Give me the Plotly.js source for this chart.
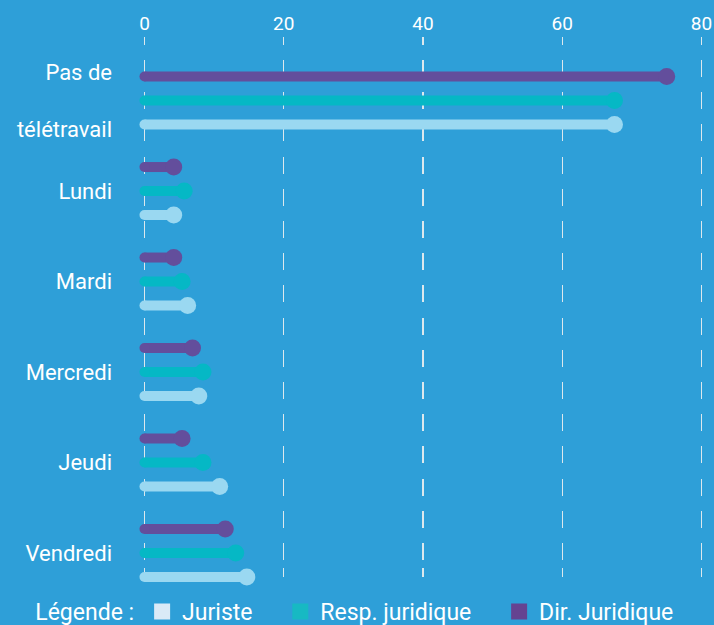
<!DOCTYPE html>
<html>
<head>
<meta charset="utf-8">
<script src="https://cdn.plot.ly/plotly-3.0.1.min.js"></script>
<style>html,body{margin:0;padding:0;background:#2E9FD8;}#chart{width:714px;height:625px;}</style>
</head>
<body>
<div id="chart"></div>
<script>
// ---- data ----
var categories = ['Pas de<br> <br>télétravail', 'Lundi', 'Mardi', 'Mercredi', 'Jeudi', 'Vendredi'];
var seriesNames = ['Juriste', 'Resp. juridique', 'Dir. Juridique'];
var juriste = [67.5, 4.2, 6.2, 7.8, 10.8, 14.7];
var respJuridique = [67.5, 5.7, 5.4, 8.4, 8.4, 13.1];
var dirJuridique = [75, 4.2, 4.2, 6.9, 5.4, 11.6];
var xTicks = [0, 20, 40, 60, 80];

// ---- styles ----
var BG = '#2E9FD8';
var barColors = ['#9AD8F1', '#05B8C5', '#634E9C'];
var legendColors = ['#DAEAF7', '#17B9C3', '#654391'];
var offsets = [0.265, 0, -0.265]; // within-group offset (category units)
var FONT = 'Roboto, "Open Sans", sans-serif';
var NB = '\u00a0';

function lollipopTrace(values, color, off) {
  var xs = [], ys = [], sizes = [];
  values.forEach(function (v, i) {
    xs.push(0, v, null);
    ys.push(i + off, i + off, null);
    sizes.push(10, 17, 0);
  });
  return {
    type: 'scatter', mode: 'lines+markers', x: xs, y: ys,
    line: {color: color, width: 10},
    marker: {color: color, size: sizes, opacity: 1, line: {width: 0}},
    showlegend: false, hoverinfo: 'skip', cliponaxis: false
  };
}

var allSeries = [juriste, respJuridique, dirJuridique];
var traces = [];
allSeries.forEach(function (vals, k) {
  traces.push(lollipopTrace(vals, barColors[k], offsets[k]));
});
seriesNames.forEach(function (name, k) {
  traces.push({
    type: 'scatter', mode: 'markers', x: [null], y: [null],
    name: k < seriesNames.length - 1 ? name + NB + NB + NB + NB : name,
    marker: {symbol: 'square', size: 17, color: legendColors[k], line: {width: 0}},
    showlegend: true, hoverinfo: 'skip'
  });
});

// dashed grid pattern (from plot top)
var dashParts = ['8px', '15px'];
for (var d = 0; d < 15; d++) { dashParts.push('17px', '15.2px'); }
dashParts.push('17px', '8px', '9px', '200px');
var gridDash = dashParts.join(',');

var layout = {
  width: 714, height: 625,
  paper_bgcolor: BG, plot_bgcolor: BG,
  margin: {l: 141, r: 9, t: 37, b: 35, autoexpand: false},
  font: {family: FONT, color: '#FFFFFF', size: 22},
  showlegend: true,
  xaxis: {
    side: 'top', range: [-0.5, 80.5], tickvals: xTicks, ticktext: xTicks.map(String),
    showgrid: true, gridcolor: 'rgba(240,240,240,0.9)', gridwidth: 1.4, griddash: gridDash,
    zeroline: false, showline: false, ticks: '',
    tickfont: {family: FONT, size: 19, color: '#FFFFFF'}, ticklabelstandoff: 2,
    fixedrange: true, automargin: false
  },
  yaxis: {
    range: [5.409, -0.702], tickvals: categories.map(function (c, i) { return i; }),
    ticktext: categories, showgrid: false, zeroline: false, showline: false, ticks: '',
    ticklabelstandoff: 28, automargin: false,
    tickfont: {family: FONT, size: 22, color: '#FFFFFF'}, fixedrange: true
  },
  legend: {
    orientation: 'h', x: -0.191, xanchor: 'left', y: 0, yanchor: 'top',
    title: {text: 'Légende :', side: 'left', font: {family: FONT, size: 23, color: '#FFFFFF'}},
    font: {family: FONT, size: 23, color: '#FFFFFF'},
    bgcolor: 'rgba(0,0,0,0)', itemclick: false, itemdoubleclick: false
  },
  hovermode: false
};

Plotly.newPlot('chart', traces, layout, {displayModeBar: false, staticPlot: true});
</script>
</body>
</html>
